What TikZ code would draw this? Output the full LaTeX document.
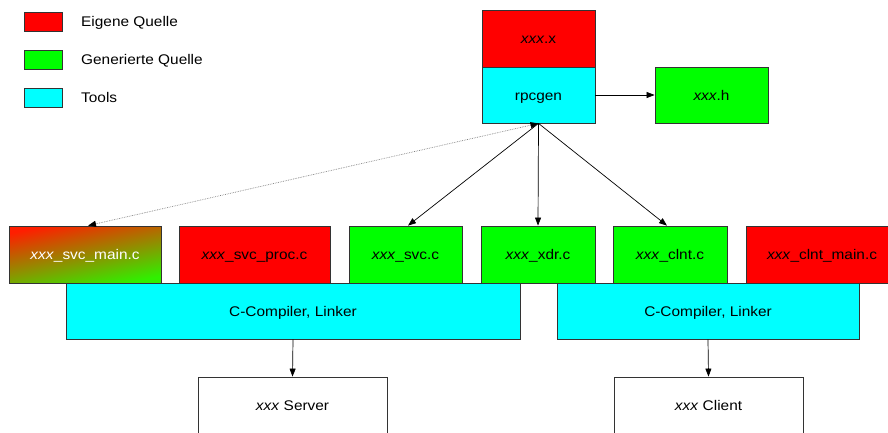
\documentclass[tikz,border=0pt]{standalone}
\usepackage{fontspec}
\setmainfont[FakeStretch=1.1]{Liberation Sans}
\usetikzlibrary{arrows.meta}
\definecolor{cred}{HTML}{FF0000}
\definecolor{cgreen}{HTML}{00FF00}
\definecolor{ccyan}{HTML}{00FFFF}
\definecolor{bord}{HTML}{333333}
\definecolor{gradred}{HTML}{FF1E00}
\definecolor{gradmid}{HTML}{C8A000}
\definecolor{gradgreen}{HTML}{30F000}
\tikzset{
  box/.style={draw=bord, line width=0.8pt, inner sep=0pt, text height=10pt, text depth=0pt, font=\fontsize{14}{16}\selectfont},
  redbox/.style={box, fill=cred},
  greenbox/.style={box, fill=cgreen},
  cyanbox/.style={box, fill=ccyan},
  whitebox/.style={box, fill=white},
  legendtext/.style={anchor=west, inner sep=0pt, text height=10pt, text depth=0pt, font=\fontsize{14}{16}\selectfont},
  conn/.style={draw=black, line width=0.7pt, -{Triangle[length=8pt,width=6pt]}},
  dotconn/.style={draw=gray, line width=0.7pt, densely dotted, {Triangle[length=8pt,width=6pt,color=black]}-{Triangle[length=8pt,width=6pt,color=black]}},
}
\begin{document}
\begin{tikzpicture}[x=1pt,y=-1pt]
\useasboundingbox (0,0) rectangle (888,432);
% legend
\node[redbox, minimum width=38pt, minimum height=19pt] (lr) at (43,21.5) {};
\node[greenbox, minimum width=38pt, minimum height=19pt] (lg) at (43,59.5) {};
\node[cyanbox, minimum width=38pt, minimum height=19pt] (lc) at (43,97.5) {};
\node[legendtext] (tr) at (81,21.5) {Eigene Quelle};
\node[legendtext] (tg) at (81,59.5) {Generierte Quelle};
\node[legendtext] (tc) at (81,97.5) {Tools};
% top
\node[redbox, minimum width=113pt, minimum height=57pt] (xx) at (538.5,38.5) {\textit{xxx}.x};
\node[cyanbox, minimum width=113pt, minimum height=56pt] (rpc) at (538.5,95) {rpcgen};
\node[greenbox, minimum width=113pt, minimum height=56pt] (xh) at (711.5,95) {\textit{xxx}.h};
% row
\node[box, top color=gradred, middle color=gradmid, bottom color=gradgreen, shading angle=12, text=white,
      minimum width=152pt, minimum height=57pt] (smain) at (85,254.5) {\textit{xxx}\_svc\_main.c};
\node[redbox, minimum width=151pt, minimum height=57pt] (sproc) at (254.5,254.5) {\textit{xxx}\_svc\_proc.c};
\node[greenbox, minimum width=113pt, minimum height=57pt] (svc) at (405.5,254.5) {\textit{xxx}\_svc.c};
\node[greenbox, minimum width=114pt, minimum height=57pt] (xdr) at (538,254.5) {\textit{xxx}\_xdr.c};
\node[greenbox, minimum width=114pt, minimum height=57pt] (clnt) at (670,254.5) {\textit{xxx}\_clnt.c};
\node[redbox, minimum width=152pt, minimum height=57pt] (cmain) at (822,254.5) {\textit{xxx}\_clnt\_main.c};
% compilers
\node[cyanbox, minimum width=454pt, minimum height=56pt] (ccl) at (293,311) {C-Compiler, Linker};
\node[cyanbox, minimum width=302pt, minimum height=56pt] (ccr) at (708,311) {C-Compiler, Linker};
% results
\node[whitebox, minimum width=189pt, minimum height=57pt] (srv) at (292.5,405.5) {\textit{xxx} Server};
\node[whitebox, minimum width=189pt, minimum height=57pt] (cli) at (708.5,405.5) {\textit{xxx} Client};
% connectors
\draw[conn] (rpc.east) -- (xh.west);
\draw[dotconn] (rpc.south) -- ([xshift=3pt]smain.north);
\draw[conn] (rpc.south) -- ([xshift=2.5pt]svc.north);
\draw[conn] (rpc.south) -- (xdr.north);
\draw[conn] (rpc.south) -- ([xshift=-3pt]clnt.north);
\draw[conn] (ccl.south) -- (srv.north);
\draw[conn] (ccr.south) -- (cli.north);
\end{tikzpicture}
\end{document}
